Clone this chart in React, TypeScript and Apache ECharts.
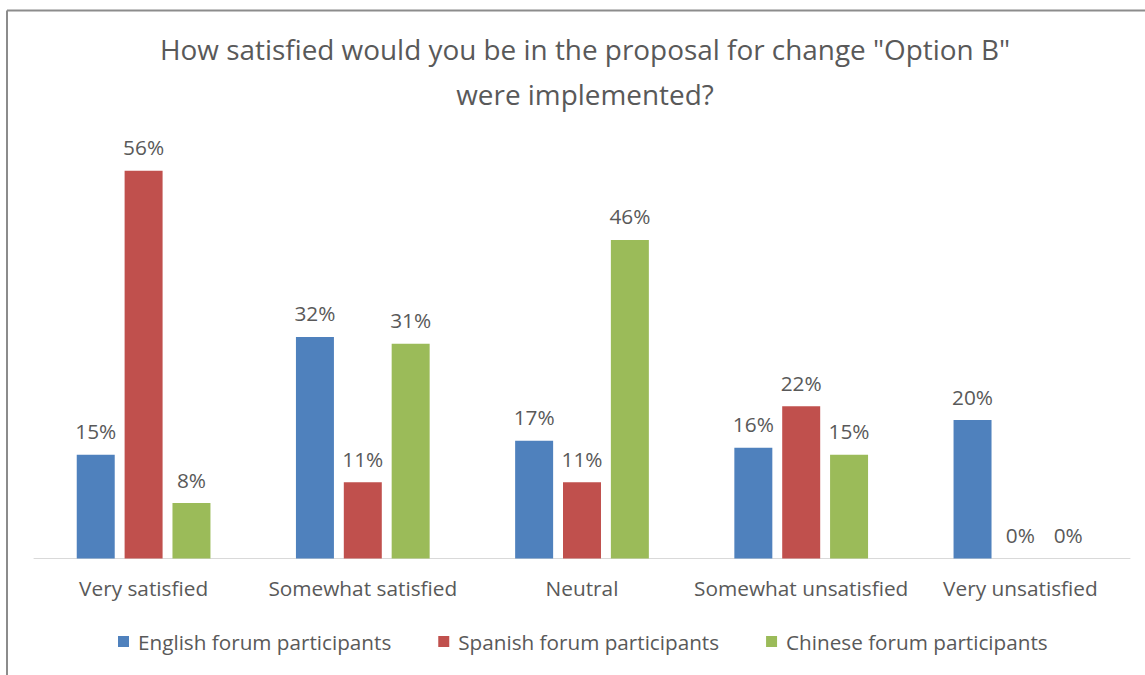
import React, { useEffect, useRef } from "react";
import * as echarts from "echarts";

const titleLines = [
  'How satisfied would you be in the proposal for change "Option B"',
  "were implemented?",
];
const categories = [
  "Very satisfied",
  "Somewhat satisfied",
  "Neutral",
  "Somewhat unsatisfied",
  "Very unsatisfied",
];
const seriesNames = [
  "English forum participants",
  "Spanish forum participants",
  "Chinese forum participants",
];
const englishValues = [15, 32, 17, 16, 20];
const spanishValues = [56, 11, 11, 22, 0];
const chineseValues = [8, 31, 46, 15, 0];
const colors = ["#4F81BD", "#C0504D", "#9BBB59"];

const FONT = "'Open Sans', sans-serif";
const TEXT = "#595959";

export default function App() {
  const ref = useRef<HTMLDivElement>(null);
  useEffect(() => {
    if (!ref.current) return;
    const chart = echarts.init(ref.current, undefined, { renderer: "svg" });
    const values = [englishValues, spanishValues, chineseValues];
    chart.setOption({
      animation: false,
      backgroundColor: "#ffffff",
      textStyle: { fontFamily: FONT, color: TEXT },
      title: {
        text: titleLines.join("\n"),
        left: 580,
        textAlign: "center",
        top: 21,
        textStyle: {
          fontFamily: FONT,
          fontSize: 27.9,
          fontWeight: "normal",
          color: TEXT,
          lineHeight: 45,
        },
      },
      legend: {
        top: 631,
        left: 118,
        padding: 0,
        itemWidth: 11,
        itemHeight: 11,
        itemGap: 47,
        icon: "rect",
        textStyle: { fontFamily: FONT, fontSize: 20.7, color: TEXT, padding: [0, 0, 0, 4] },
        data: seriesNames,
      },
      grid: { left: 34, right: 15, top: 143, bottom: 116.5, containLabel: false },
      xAxis: {
        type: "category",
        data: categories,
        axisLine: { lineStyle: { color: "#D9D9D9", width: 1 } },
        axisTick: { show: false },
        axisLabel: { fontFamily: FONT, fontSize: 20.8, color: TEXT, margin: 19, interval: 0 },
      },
      yAxis: {
        type: "value",
        min: 0,
        max: 60,
        interval: 10,
        show: false,
        splitLine: { show: false },
      },
      series: seriesNames.map((name, i) => ({
        name,
        type: "bar",
        data: values[i],
        barGap: "26%",
        barCategoryGap: "39%",
        itemStyle: { color: colors[i] },
        label: {
          show: true,
          position: "top",
          distance: 13,
          formatter: "{c}%",
          fontFamily: FONT,
          fontSize: 20.8,
          color: TEXT,
        },
      })),
      graphic: [
        {
          type: "line",
          shape: { x1: 7, y1: 10.5, x2: 1145, y2: 10.5 },
          style: { stroke: "#8c8c8c", lineWidth: 2 },
        },
        {
          type: "line",
          shape: { x1: 7, y1: 10.5, x2: 7, y2: 675 },
          style: { stroke: "#8c8c8c", lineWidth: 2 },
        },
      ],
    });
    return () => chart.dispose();
  }, []);
  return (
    <div
      ref={ref}
      style={{ position: "absolute", left: 0, top: 0, width: 1145, height: 675 }}
    />
  );
}
